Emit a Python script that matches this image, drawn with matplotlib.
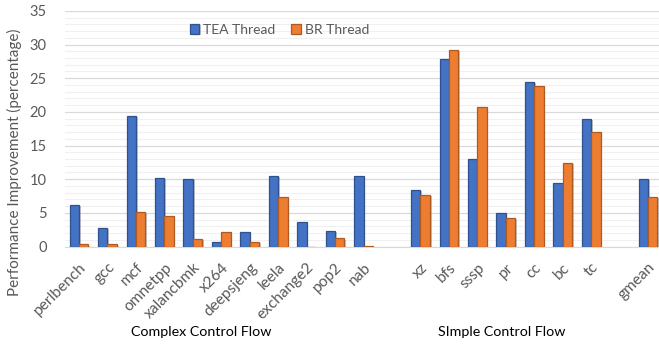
import numpy as np
import matplotlib
matplotlib.use('Agg')
import matplotlib.pyplot as plt
import matplotlib.patheffects as pe
import matplotlib.transforms as mtransforms
from matplotlib.ticker import MultipleLocator

plt.rcParams['font.family'] = ['Lato', 'DejaVu Sans']

# benchmarks, with blank slots separating the groups
labels = ['perlbench', 'gcc', 'mcf', 'omnetpp', 'xalancbmk', 'x264', 'deepsjeng',
          'leela', 'exchange2', 'pop2', 'nab', '',
          'xz', 'bfs', 'sssp', 'pr', 'cc', 'bc', 'tc', '', 'gmean']
tea = [6.2, 2.7, 19.4, 10.2, 10.0, 0.65, 2.1, 10.5, 3.7, 2.3, 10.4, np.nan,
       8.4, 27.8, 13.0, 5.0, 24.5, 9.5, 18.9, np.nan, 10.0]
br = [0.3, 0.3, 5.2, 4.6, 1.1, 2.2, 0.7, 7.3, -0.1, 1.2, 0.05, np.nan,
      7.6, 29.2, 20.7, 4.2, 23.9, 12.4, 17.0, np.nan, 7.4]

groups = ['Complex Control Flow', 'SImple Control Flow']
group_x = [4.29, 14.87]

grey = '#595959'
blue, blue_edge = '#4472C4', '#2F528F'
orange, orange_edge = '#ED7D31', '#AE5A21'

fig = plt.figure(figsize=(6.59, 3.47), dpi=100)
ax = fig.add_axes([64.8 / 659, 0.2896, 597.5 / 659, 0.679])

x = np.arange(len(labels))
w = 0.33
shadow = [pe.SimplePatchShadow(offset=(1.2, -0.8), shadow_rgbFace='#7f7f7f', alpha=0.45),
          pe.Normal()]
b1 = ax.bar(x - w / 2, tea, w, color=blue, edgecolor=blue_edge, linewidth=0.9,
            label='TEA Thread', zorder=3)
b2 = ax.bar(x + w / 2, br, w, color=orange, edgecolor=orange_edge, linewidth=0.9,
            label='BR Thread', zorder=3)
for bar in list(b1) + list(b2):
    bar.set_path_effects(shadow)

ax.set_xlim(-0.5, 20.5)
ax.set_ylim(0, 35)
ax.yaxis.set_major_locator(MultipleLocator(5))
ax.yaxis.set_minor_locator(MultipleLocator(1))
ax.grid(axis='y', which='major', color='#d9d9d9', linewidth=0.9, zorder=0)
ax.grid(axis='y', which='minor', color='#f0f0f0', linewidth=0.8, zorder=0)
ax.set_axisbelow(True)
for s in ['top', 'right', 'left']:
    ax.spines[s].set_visible(False)
ax.spines['bottom'].set_color('#d9d9d9')
ax.spines['bottom'].set_zorder(2)

ax.set_xticks(x)
ax.set_xticklabels(labels, rotation=45, ha='right', rotation_mode='anchor',
                   fontsize=11.2, color=grey)
ax.tick_params(axis='x', length=0, pad=10)
ax.tick_params(axis='y', which='both', length=0, labelsize=10.5, labelcolor=grey, pad=13)
ax.set_ylabel('Performance Improvement (percentage)', fontsize=11, color=grey)
ax.yaxis.set_label_coords(-0.0716, 0.359)

# group captions under the tick labels
trans = mtransforms.blended_transform_factory(ax.transData, fig.transFigure)
for g, gx in zip(groups, group_x):
    ax.text(gx, 0.043, g, transform=trans, ha='center', va='center',
            fontsize=10.3, color='black')

fig.legend(handles=[b1, b2], loc='center', bbox_to_anchor=(0.424, 0.914), ncol=2,
           frameon=False, fontsize=10, labelcolor=grey, handlelength=0.7,
           handleheight=0.7, handletextpad=0.3, columnspacing=1.1)

fig.savefig('out.png', dpi=100)
